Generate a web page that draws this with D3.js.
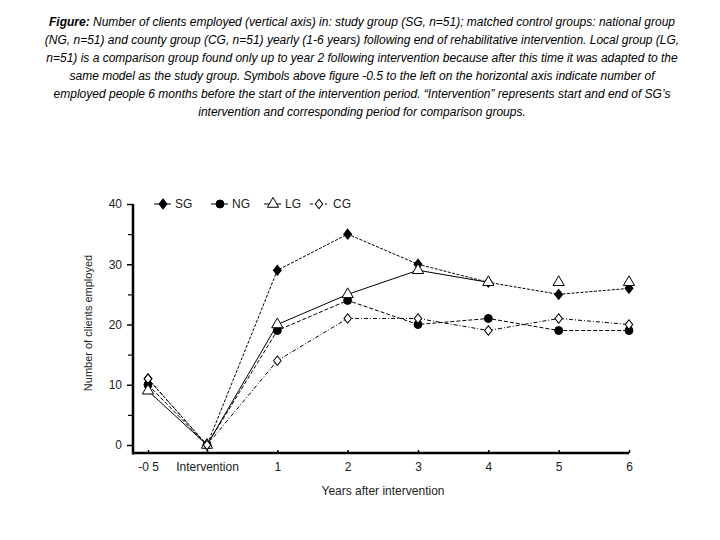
<!DOCTYPE html>
<html><head><meta charset="utf-8">
<script src="https://cdn.jsdelivr.net/npm/d3@7"></script>
<style>body{margin:0;background:#fff;} svg{display:block;} text{font-family:"Liberation Sans",Arial,sans-serif;}</style>
</head><body><svg id="c" width="720" height="540"></svg>
<script>
const xValues = [-0.5, 0, 1, 2, 3, 4, 5, 6];
const xTickLabels = ["-0 5", "Intervention", "1", "2", "3", "4", "5", "6"];
const yTicks = [0, 10, 20, 30, 40];
const seriesNames = ["SG", "NG", "LG", "CG"];
const sgValues = [11, 0, 29, 35, 30, 27, 25, 26];
const ngValues = [10, 0, 19, 24, 20, 21, 19, 19];
const lgValues = [9, 0, 20, 25, 29, 27, 27, 27];
const lgLineEnd = 4; // LG connected up to year 4 index (5 points + first)
const cgValues = [11, 0, 14, 21, 21, 19, 21, 20];
const captionLines = [
  ["Figure:", " Number of clients employed (vertical axis) in: study group (SG, n=51); matched control groups: national group"],
  ["", "(NG, n=51) and county group (CG, n=51) yearly (1-6 years) following end of rehabilitative intervention. Local group (LG,"],
  ["", "n=51) is a comparison group found only up to year 2 following intervention because after this time it was adapted to the"],
  ["", "same model as the study group. Symbols above figure -0.5 to the left on the horizontal axis indicate number of"],
  ["", "employed people 6 months before the start of the intervention period. \u201cIntervention\u201d represents start and end of SG\u2019s"],
  ["", "intervention and  corresponding period for comparison groups."]
];

const svg = d3.select("#c");
// caption
const cap = svg.append("g");
captionLines.forEach((ln, i) => {
  const t = cap.append("text").attr("x", 362).attr("y", 26 + i * 18)
    .attr("text-anchor", "middle").attr("font-size", 12).attr("font-style", "italic").attr("fill", "#000");
  if (ln[0]) t.append("tspan").attr("font-weight", "bold").text(ln[0]);
  t.append("tspan").text(ln[1]);
});

const x = d3.scaleLinear().domain([-0.5, 0, 6]).range([148, 207, 629]);
const y = d3.scaleLinear().domain([0, 40]).range([445, 204]);
const axisY = 453, axisX = 133;

// y axis
const ya = svg.append("g").attr("transform", `translate(${axisX},0)`)
  .call(d3.axisLeft(y).tickValues(yTicks).tickSize(6).tickPadding(5).tickFormat(d3.format("d")));
ya.select(".domain").remove();
ya.selectAll("text").attr("font-size", 12).attr("font-family", "Liberation Sans, Arial, sans-serif").attr("fill", "#222");
ya.selectAll("line").attr("stroke", "#000").attr("stroke-width", 1.5);
const yMinor = svg.append("g").attr("transform", `translate(${axisX},0)`)
  .call(d3.axisLeft(y).tickValues([5, 15, 25, 35]).tickSize(5).tickFormat(""));
yMinor.select(".domain").remove();
yMinor.selectAll("line").attr("stroke", "#000").attr("stroke-width", 1.2);
svg.append("line").attr("x1", axisX).attr("x2", axisX).attr("y1", y(40)).attr("y2", axisY + 1.5)
  .attr("stroke", "#000").attr("stroke-width", 2.5);

// x axis
const xa = svg.append("g").attr("transform", `translate(0,${axisY})`)
  .call(d3.axisBottom(x).tickValues(xValues).tickSize(-3).tickPadding(9)
    .tickFormat((d, i) => xTickLabels[i]));
xa.select(".domain").remove();
xa.selectAll("line").attr("stroke", "#000").attr("stroke-width", 1.5);
xa.selectAll("text").attr("font-size", 12).attr("font-family", "Liberation Sans, Arial, sans-serif").attr("fill", "#222").attr("dy", "0.71em");
svg.append("line").attr("x1", axisX).attr("x2", x(6)).attr("y1", axisY).attr("y2", axisY)
  .attr("stroke", "#000").attr("stroke-width", 2.5);

// axis titles
svg.append("text").attr("x", 383).attr("y", 495).attr("text-anchor", "middle")
  .attr("font-size", 12).attr("fill", "#222").text("Years after intervention");
svg.append("text").attr("transform", "translate(92,323) rotate(-90)").attr("text-anchor", "middle")
  .attr("font-size", 11).attr("fill", "#222").text("Number of clients employed");

// series
const series = [
  {name: "SG", vals: sgValues, dash: "3,1.5", sym: d3.symbolDiamond, fill: "#000", n: sgValues.length},
  {name: "NG", vals: ngValues, dash: "4,2", sym: d3.symbolCircle, fill: "#000", n: ngValues.length},
  {name: "LG", vals: lgValues, dash: null, sym: d3.symbolTriangle, fill: "#fff", n: lgLineEnd + 2},
  {name: "CG", vals: cgValues, dash: "4,2,1,2", sym: d3.symbolDiamond, fill: "#fff", n: cgValues.length}
];
const line = d3.line().x(d => x(d[0])).y(d => y(d[1]));
series.forEach(s => {
  const pts = xValues.map((xv, i) => [xv, s.vals[i]]);
  svg.append("path").datum(pts.slice(0, s.n)).attr("d", line).attr("fill", "none")
    .attr("stroke", "#000").attr("stroke-width", 1).attr("stroke-dasharray", s.dash);
});
const symSize = {SG: 45, NG: 50, LG: 55, CG: 40};
series.forEach(s => {
  const pts = xValues.map((xv, i) => [xv, s.vals[i]]);
  svg.append("g").selectAll("path").data(pts).join("path")
    .attr("transform", d => `translate(${x(d[0])},${y(d[1])})` + (s.sym === d3.symbolDiamond ? " scale(1.1,0.8)" : ""))
    .attr("d", d3.symbol().type(s.sym).size(symSize[s.name]))
    .attr("fill", s.fill).attr("stroke", "#000").attr("stroke-width", 1);
});

// legend
const legX = [163, 220, 273, 319];
const lg = svg.append("g");
series.forEach((s, i) => {
  const cx = legX[i];
  lg.append("line").attr("x1", cx - 9).attr("x2", cx + 8).attr("y1", 204).attr("y2", 204)
    .attr("stroke", "#000").attr("stroke-width", 1).attr("stroke-dasharray", i === 3 ? "3,2" : null);
  lg.append("path").attr("transform", `translate(${cx},204)` + (s.sym === d3.symbolDiamond ? " scale(1.1,0.8)" : ""))
    .attr("d", d3.symbol().type(s.sym).size(symSize[s.name])).attr("fill", s.fill).attr("stroke", "#000");
  lg.append("text").attr("x", cx + (i === 3 ? 14 : 12)).attr("y", 208).attr("font-size", 12).attr("fill", "#222").text(s.name);
});
</script></body></html>
